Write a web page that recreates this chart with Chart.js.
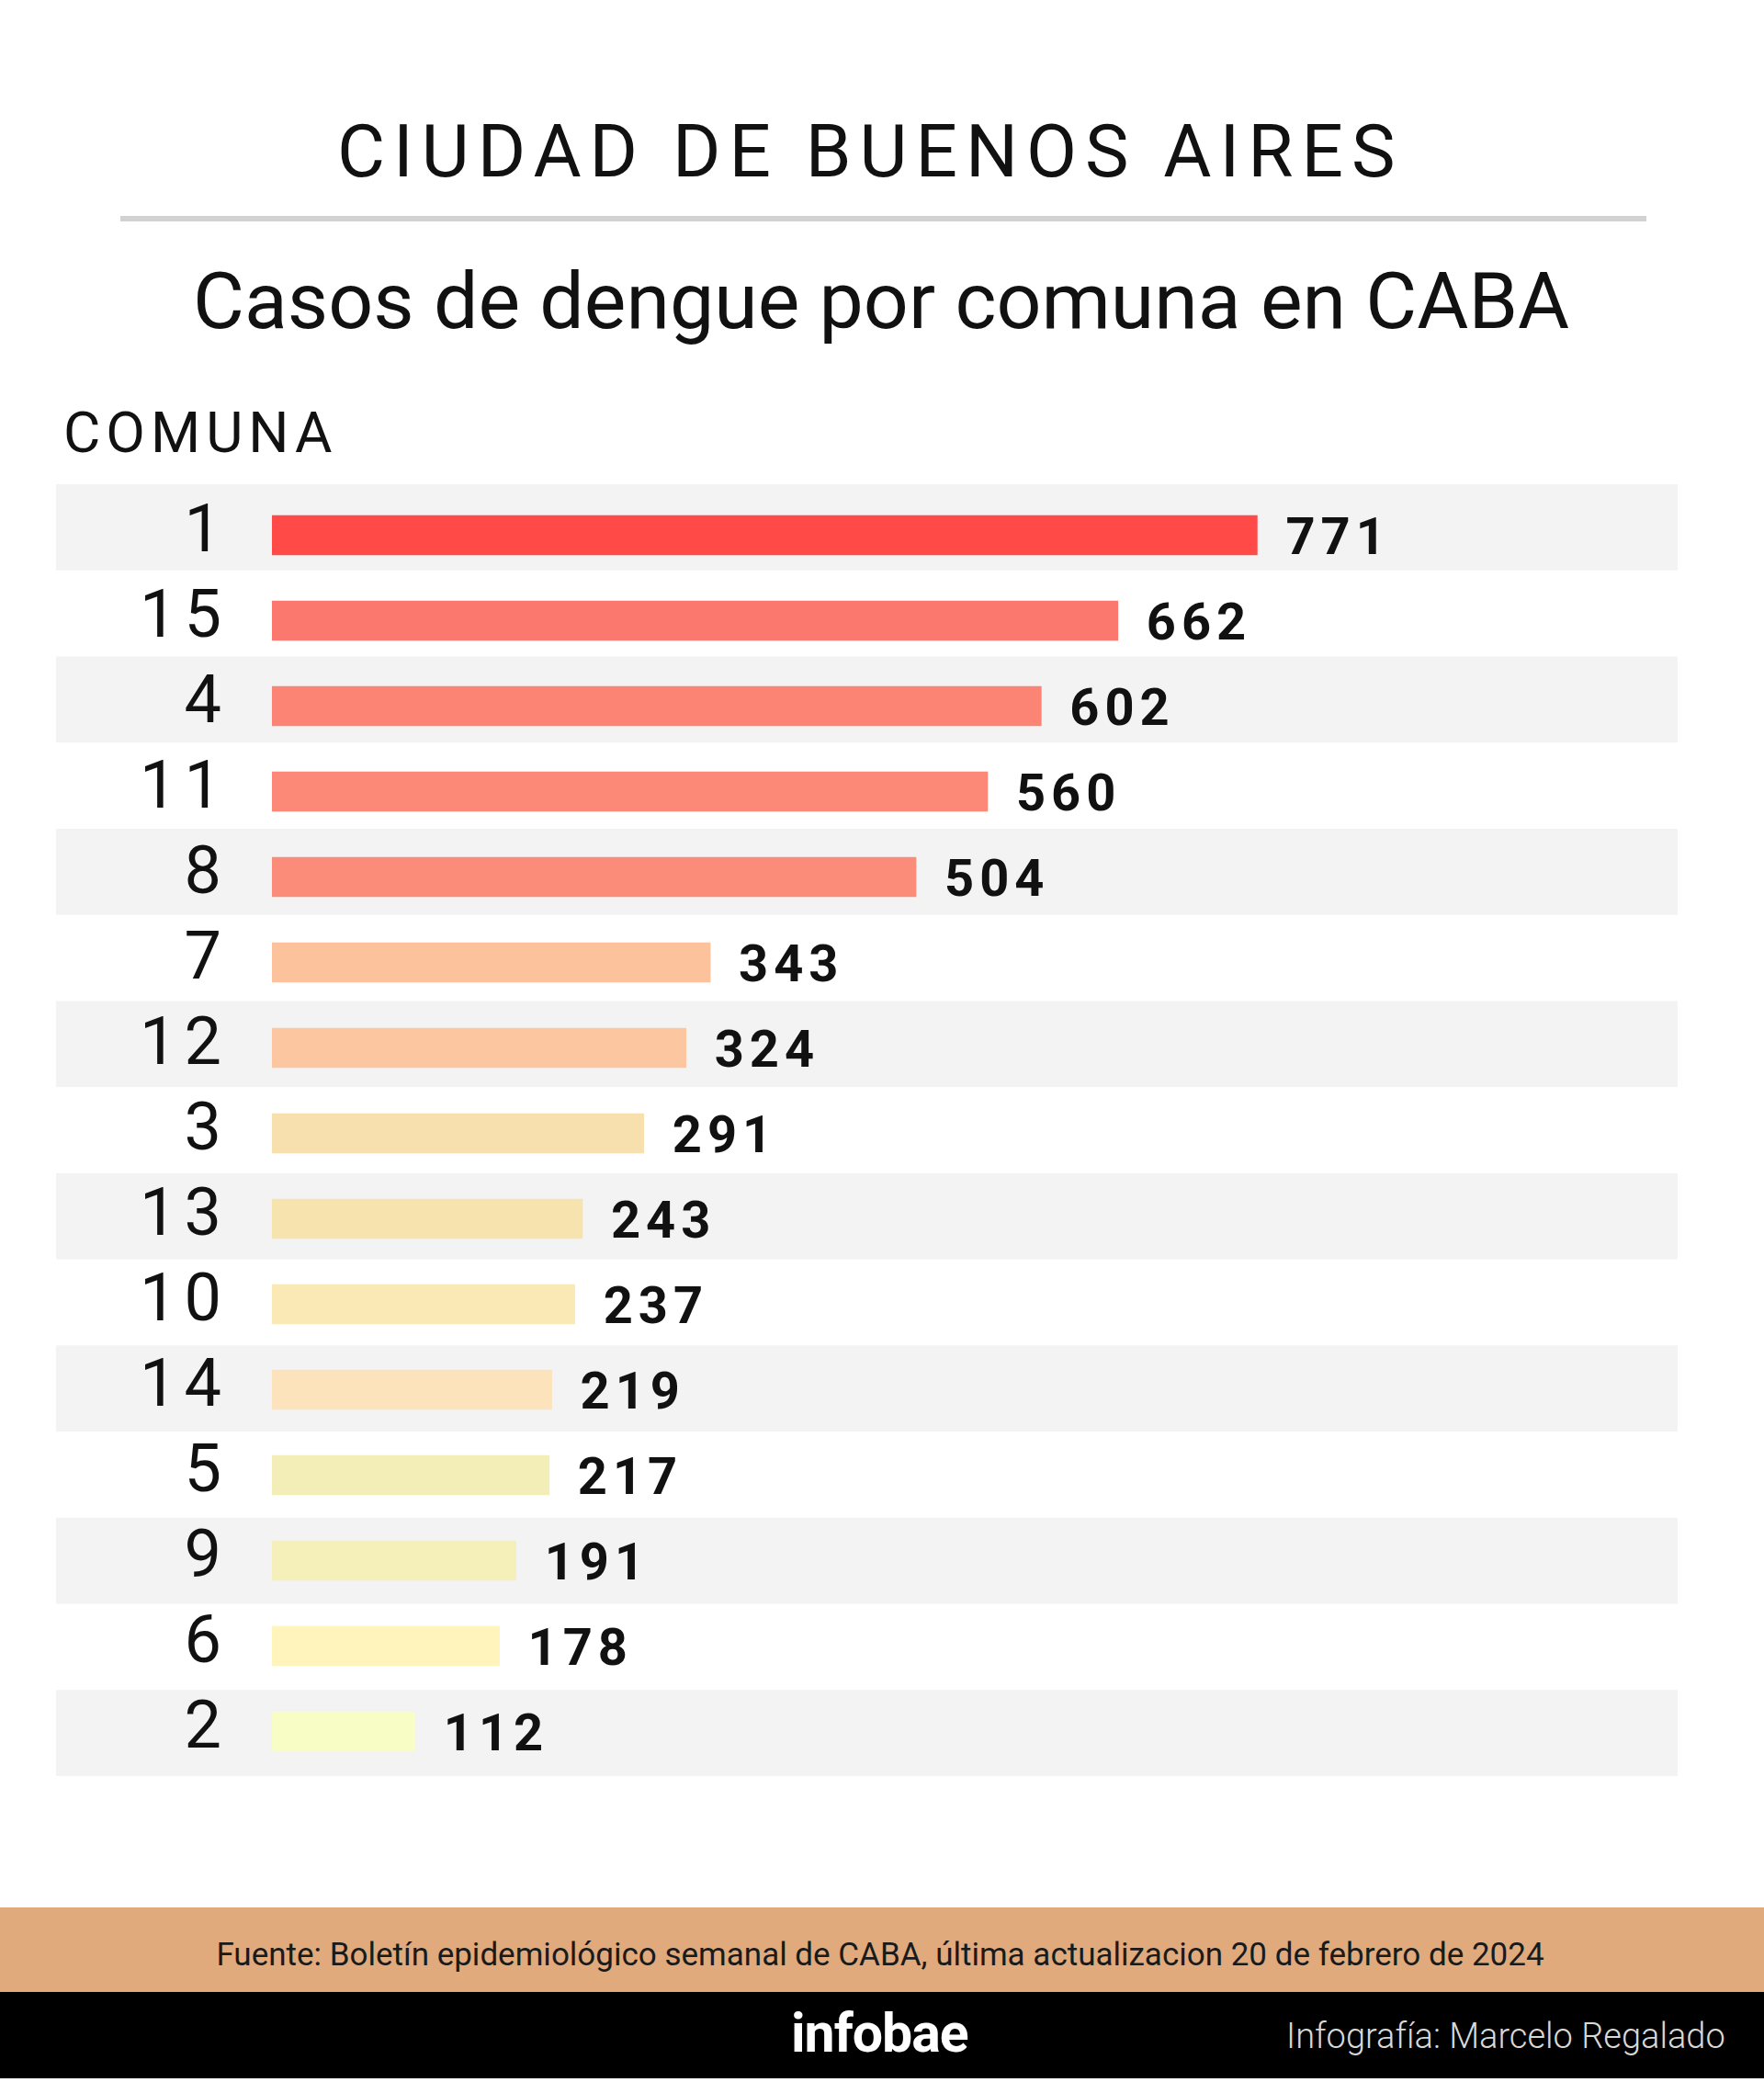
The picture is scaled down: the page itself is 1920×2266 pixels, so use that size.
<!DOCTYPE html>
<html><head><meta charset="utf-8">
<script src="https://cdn.jsdelivr.net/npm/chart.js@4.4.1/dist/chart.umd.min.js"></script>
<style>
html,body{margin:0;padding:0;background:#fff;}
body{width:1920px;height:2266px;position:relative;overflow:hidden;font-family:Roboto,sans-serif;}
.t{position:absolute;white-space:nowrap;line-height:1;}
#c{position:absolute;left:0;top:0;}
</style></head><body>
<canvas id="c" width="1920" height="2266"></canvas>
<div class="t" style="left:367px;top:125px;font-size:80px;letter-spacing:9px;color:#111;">CIUDAD DE BUENOS AIRES</div>
<div style="position:absolute;left:131px;top:235px;width:1661px;height:6px;background:#d2d2d2"></div>
<div class="t" style="left:210px;top:285px;font-size:86px;color:#111;">Casos de dengue por comuna en CABA</div>
<div class="t" style="left:69px;top:440px;font-size:62px;letter-spacing:6px;color:#111;">COMUNA</div>
<div style="position:absolute;left:0;top:2076px;width:1920px;height:92px;background:#E0AA7C;"></div>
<div class="t" style="left:0;width:1916px;top:2110px;font-size:35px;color:#1a1a1a;text-align:center;">Fuente: Boletín epidemiológico semanal de CABA, última actualizacion 20 de febrero de 2024</div>
<div style="position:absolute;left:0;top:2168px;width:1920px;height:94px;background:#000;"></div>
<div class="t" style="left:861px;top:2183px;font-size:59px;font-weight:bold;letter-spacing:-1px;color:#fff;">infobae</div>
<div class="t" style="left:1400px;top:2197px;font-size:38px;font-weight:300;color:#d8d8d8;">Infografía: Marcelo Regalado</div>
<script>
const comunas = ['1','15','4','11','8','7','12','3','13','10','14','5','9','6','2'];
const casos = [771,662,602,560,504,343,324,291,243,237,219,217,191,178,112];
const colores = ['#FF4A48','#FB786E','#FC8474','#FC8878','#FC8C7A','#FCC29C','#FCC6A0','#F8E0AE','#F7E3AE','#FBE9B5','#FDE3BC','#F3EDB8','#F5F0B9','#FEF4BC','#F8FCC5'];
const xMax = 1100;

const bandPlugin = {
  id:'bands',
  beforeDraw(chart){
    const {ctx, chartArea} = chart;
    const n = comunas.length;
    const top = chartArea.top - 9, bottom = chartArea.bottom + 2;
    const h = (bottom - top)/n;
    ctx.save();
    ctx.fillStyle = '#F3F3F3';
    for(let i=0;i<n;i+=2){
      ctx.fillRect(61, top + i*h, chartArea.right - 61, h);
    }
    ctx.restore();
    ctx.letterSpacing = '8px';
  },
  beforeDatasetsDraw(chart){
    chart.ctx.letterSpacing = '0px';
  },
  afterDatasetsDraw(chart){
    const ctx = chart.ctx;
    const meta = chart.getDatasetMeta(0);
    ctx.save();
    ctx.font = 'bold 56px Roboto';
    ctx.letterSpacing = '6px';
    ctx.fillStyle = '#111';
    ctx.textAlign = 'left';
    ctx.textBaseline = 'middle';
    meta.data.forEach((bar,i)=>{
      ctx.fillText(String(casos[i]), bar.x + 31, bar.y + 6);
    });
    ctx.restore();
    ctx.letterSpacing = '0px';
  }
};

new Chart(document.getElementById('c'), {
  type:'bar',
  data:{labels:comunas, datasets:[{data:casos, backgroundColor:colores, borderWidth:0, barThickness:43}]},
  options:{
    indexAxis:'y',
    responsive:false,
    animation:false,
    devicePixelRatio:1,
    layout:{padding:{top:536,bottom:335,left:0,right:94}},
    plugins:{legend:{display:false},tooltip:{enabled:false}},
    scales:{
      x:{display:false,min:0,max:xMax},
      y:{
        grid:{display:false,drawTicks:false},
        border:{display:false},
        ticks:{font:{family:'Roboto',size:72,weight:'normal'},color:'#111',padding:47,labelOffset:-1},
        afterFit(s){ s.width = 296; }
      }
    }
  },
  plugins:[bandPlugin]
});
</script>
</body></html>
